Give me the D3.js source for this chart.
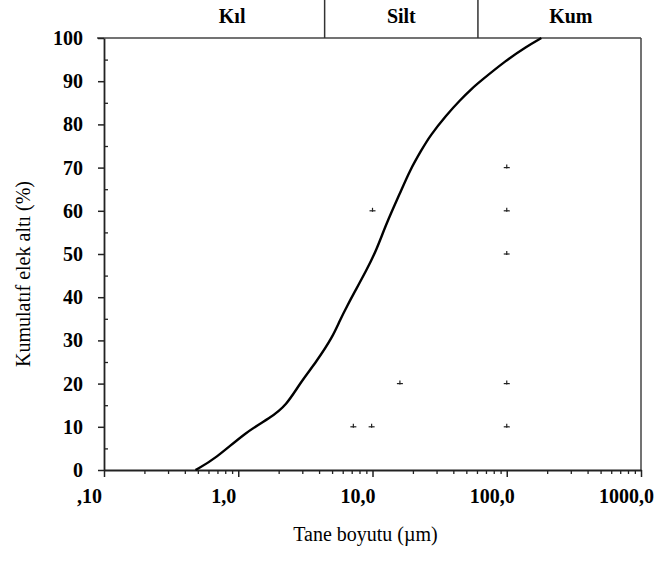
<!DOCTYPE html>
<html><head><meta charset="utf-8">
<script src="https://cdn.jsdelivr.net/npm/d3@7"></script>
<style>
body{margin:0;background:#fff;}
svg{display:block;}
text{font-family:"Liberation Serif","Times New Roman",serif;fill:#000;}
</style></head>
<body><div id="chart"></div>
<script>
// ---- data ----
const grainSize = [0.48, 0.67, 1.15, 1.72, 2.29, 2.88, 3.83, 5.07, 5.72, 6.56, 7.18, 9.04, 10.7, 12.7, 16.0, 19.0, 23.2, 26.7, 35.6, 44.8, 55, 63.1, 99.6, 140, 181];
const cumPassing = [0, 2.5, 8.9, 12.0, 15.0, 20.1, 25.1, 30.9, 34.7, 38.3, 40.6, 46.3, 50.9, 57.1, 64.0, 69.4, 74.1, 77.3, 82.2, 85.6, 88.3, 89.9, 94.9, 98.0, 100];
const xTickValues = [0.1, 1, 10, 100, 1000];
const xTickLabels = [",10", "1,0", "10,0", "100,0", "1000,0"];
const yTickValues = [0, 10, 20, 30, 40, 50, 60, 70, 80, 90, 100];
const classBounds = [4.4, 61];
const classNames = ["Kıl", "Silt", "Kum"];
const classLabelAt = [0.9, 16.4, 300];
const strayX = [10, 100, 100, 100, 16, 100, 7.2, 9.85, 100];
const strayY = [60, 70, 60, 50, 20, 20, 10, 10, 10];

// ---- layout ----
const W = 657, H = 566;
const m = {left:104, top:38, right:16, bottom:96};
const svg = d3.select("#chart").append("svg").attr("width", W).attr("height", H);
const x = d3.scaleLog().domain([0.1, 1000]).range([m.left, W - m.right]);
const y = d3.scaleLinear().domain([0, 100]).range([H - m.bottom, m.top]);

// frame (top and right)
svg.append("line").attr("x1", x(0.1) - 7).attr("x2", x(1000)).attr("y1", y(100)).attr("y2", y(100))
  .attr("stroke", "#444").attr("stroke-width", 1.5);
svg.append("line").attr("x1", x(1000)).attr("x2", x(1000)).attr("y1", y(100)).attr("y2", y(0))
  .attr("stroke", "#444").attr("stroke-width", 1.5);

// header separators
classBounds.forEach(b => {
  svg.append("line").attr("x1", x(b)).attr("x2", x(b)).attr("y1", 0).attr("y2", y(100))
    .attr("stroke", "#333").attr("stroke-width", 1.5);
});
svg.selectAll("text.cls").data(classNames).enter().append("text").attr("class", "cls")
  .attr("x", (d, i) => x(classLabelAt[i])).attr("y", 23)
  .attr("text-anchor", "middle").attr("font-size", 20).attr("font-weight", "bold")
  .text(d => d);

// minor ticks
const minorX = [];
for (let e = -1; e < 3; e++) for (let k = 2; k <= 9; k++) minorX.push(k * Math.pow(10, e));
svg.append("g").attr("transform", `translate(0,${y(0)})`)
  .call(d3.axisBottom(x).tickValues(minorX).tickSize(4).tickFormat(""))
  .call(g => g.select(".domain").remove())
  .call(g => g.selectAll("line").attr("stroke", "#222").attr("stroke-width", 1.3));
const minorY = d3.range(5, 100, 10);
svg.append("g").attr("transform", `translate(${x(0.1)},0)`)
  .call(d3.axisRight(y).tickValues(minorY).tickSize(4).tickFormat(""))
  .call(g => g.select(".domain").remove())
  .call(g => g.selectAll("line").attr("stroke", "#222").attr("stroke-width", 1.3));

// x axis
const xa = svg.append("g").attr("transform", `translate(0,${y(0)})`)
  .call(d3.axisBottom(x).tickValues(xTickValues).tickSize(7).tickSizeOuter(0)
    .tickFormat((d, i) => xTickLabels[i]));
xa.select(".domain").attr("stroke", "#222").attr("stroke-width", 1.8);
xa.selectAll("line").attr("stroke", "#222").attr("stroke-width", 1.5);
xa.selectAll("text").attr("font-size", 20).attr("font-weight", "bold")
  .attr("font-family", "Liberation Serif, serif").attr("fill", "#000")
  .attr("dx", -15).attr("y", 19).attr("dy", "0.71em");

// y axis
const ya = svg.append("g").attr("transform", `translate(${x(0.1)},0)`)
  .call(d3.axisLeft(y).tickValues(yTickValues).tickSize(6).tickSizeOuter(0));
ya.select(".domain").attr("stroke", "#222").attr("stroke-width", 1.8);
ya.selectAll("line").attr("stroke", "#222").attr("stroke-width", 1.5);
ya.selectAll("text").attr("font-size", 20).attr("font-weight", "bold")
  .attr("font-family", "Liberation Serif, serif").attr("fill", "#000").attr("x", -21);

// stray marks (scan remnants)
const sg = svg.append("g").attr("stroke", "#222").attr("stroke-width", 1.2);
strayX.forEach((v, i) => {
  sg.append("line").attr("x1", x(v) - 3).attr("x2", x(v) + 3).attr("y1", y(strayY[i])).attr("y2", y(strayY[i]));
  sg.append("line").attr("x1", x(v)).attr("x2", x(v)).attr("y1", y(strayY[i]) - 3).attr("y2", y(strayY[i]) + 1);
});

// curve
const pts = grainSize.map((g, i) => [g, cumPassing[i]]);
svg.append("path").datum(pts)
  .attr("fill", "none").attr("stroke", "#000").attr("stroke-width", 2.4)
  .attr("d", d3.line().x(d => x(d[0])).y(d => y(d[1])).curve(d3.curveBasis));

// axis titles
svg.append("text").attr("x", (x(0.1) + x(1000)) / 2 - 7).attr("y", 541)
  .attr("text-anchor", "middle").attr("font-size", 20).text("Tane boyutu (µm)");
svg.append("text").attr("transform", `translate(30,${(y(0) + y(100)) / 2 + 20}) rotate(-90)`)
  .attr("text-anchor", "middle").attr("font-size", 20).text("Kumulatıf elek altı (%)");
</script></body></html>
